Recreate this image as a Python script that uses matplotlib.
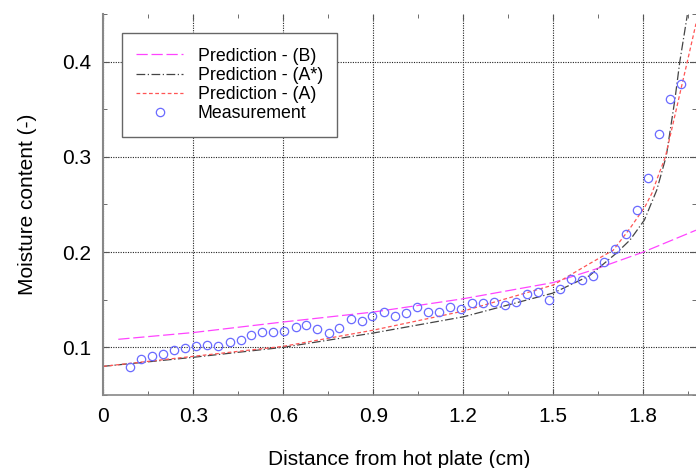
import matplotlib
matplotlib.use("Agg")
import matplotlib.pyplot as plt
from matplotlib.ticker import MultipleLocator

plt.rcParams['font.family'] = ['Liberation Sans', 'DejaVu Sans']

# Measurement data
x_meas = [0.089, 0.126, 0.162, 0.200, 0.237, 0.274, 0.310, 0.347, 0.384, 0.421,
          0.458, 0.494, 0.530, 0.567, 0.604, 0.641, 0.677, 0.714, 0.751, 0.787,
          0.825, 0.862, 0.897, 0.935, 0.972, 1.009, 1.045, 1.083, 1.118, 1.155,
          1.193, 1.229, 1.266, 1.303, 1.339, 1.375, 1.413, 1.449, 1.486, 1.523,
          1.560, 1.596, 1.632, 1.670, 1.707, 1.743, 1.780, 1.817, 1.854, 1.890,
          1.927]
y_meas = [0.0796, 0.0877, 0.0912, 0.0933, 0.0975, 0.0989, 0.1014, 0.1024, 0.1014, 0.1056,
          0.1077, 0.1132, 0.1158, 0.1158, 0.1168, 0.1213, 0.1234, 0.1189, 0.1153, 0.1206,
          0.1294, 0.1276, 0.1326, 0.1374, 0.1329, 0.1363, 0.1420, 0.1374, 0.1374, 0.1420,
          0.1405, 0.1465, 0.1465, 0.1476, 0.1444, 0.1473, 0.1557, 0.1578, 0.1494, 0.1609,
          0.1714, 0.1707, 0.1749, 0.1896, 0.2036, 0.2193, 0.2445, 0.2775, 0.3244, 0.3611,
          0.3766]

# Prediction (B)
x_B = [0.05, 0.3, 0.6, 0.9, 1.2, 1.5, 1.64, 1.8, 1.976]
y_B = [0.1084, 0.1155, 0.1266, 0.137, 0.151, 0.168, 0.182, 0.200, 0.223]

# Prediction (A*)
x_As = [0.0, 0.3, 0.6, 0.9, 1.2, 1.5, 1.62, 1.71, 1.756, 1.804, 1.845, 1.877, 1.906, 1.922, 1.947]
y_As = [0.080, 0.0895, 0.100, 0.115, 0.132, 0.157, 0.175, 0.1987, 0.2127, 0.2337, 0.265, 0.301, 0.361, 0.400, 0.449]

# Prediction (A)
x_A = [0.0, 0.3, 0.6, 0.9, 1.2, 1.5, 1.622, 1.70, 1.756, 1.806, 1.829, 1.851, 1.874, 1.93, 1.947, 1.976]
y_A = [0.080, 0.0905, 0.101, 0.118, 0.138, 0.1654, 0.188, 0.202, 0.225, 0.2477, 0.2618, 0.281, 0.300, 0.377, 0.400, 0.440]

x_ticks = [0, 0.3, 0.6, 0.9, 1.2, 1.5, 1.8]
x_ticklabels = ['0', '0.3', '0.6', '0.9', '1.2', '1.5', '1.8']
y_ticks = [0.1, 0.2, 0.3, 0.4]
y_ticklabels = ['0.1', '0.2', '0.3', '0.4']

fig = plt.figure(figsize=(6.96, 4.68), dpi=100)
ax = fig.add_axes([103.3 / 696, 0.1562, 1 - 103.3 / 696, 0.8137])

ax.plot(x_B, y_B, color='#ff44ff', lw=0.9, dashes=(9, 3), label='Prediction - (B)')
ax.plot(x_As, y_As, color='#444444', lw=0.9, dashes=(7, 2, 1, 2), label='Prediction - (A*)')
ax.plot(x_A, y_A, color='#ff5555', lw=0.9, dashes=(3, 2), label='Prediction - (A)')
ax.plot(x_meas, y_meas, 'o', mfc='none', mec='#6a6aff', ms=6, mew=0.9, label='Measurement')

ax.set_xlim(0, 1.976)
ax.set_ylim(0.05, 0.45)
ax.xaxis.set_minor_locator(MultipleLocator(0.15))
ax.yaxis.set_minor_locator(MultipleLocator(0.05))
ax.set_xticks(x_ticks)
ax.set_xticklabels(x_ticklabels)
ax.set_yticks(y_ticks)
ax.set_yticklabels(y_ticklabels)

ax.tick_params(which='both', direction='in', top=True, right=True, colors='#555555',
               labelcolor='black', labelsize=15)
ax.tick_params(which='major', length=4, pad=9)
ax.tick_params(which='minor', length=3)
ax.grid(True, which='major', color='#222222', linestyle=(0, (1, 1.2)), linewidth=0.8)

for s in ['top', 'right']:
    ax.spines[s].set_visible(False)
ax.spines['left'].set_color('#888888')
ax.spines['left'].set_linewidth(1.5)
ax.spines['bottom'].set_color('#888888')
ax.spines['bottom'].set_linewidth(1.2)

ax.set_xlabel('Distance from hot plate (cm)', fontsize=15, labelpad=17)
ax.set_ylabel('Moisture content (-)', fontsize=15, labelpad=18)

leg = ax.legend(loc='upper left', bbox_to_anchor=(0.032, 0.9496), borderaxespad=0,
                fontsize=12.8, fancybox=False, framealpha=1, edgecolor='#666666',
                handlelength=2.6, handletextpad=0.84, labelspacing=0.13, borderpad=0.8)
leg.get_frame().set_linewidth(1.0)

fig.savefig('out.png', dpi=100)
